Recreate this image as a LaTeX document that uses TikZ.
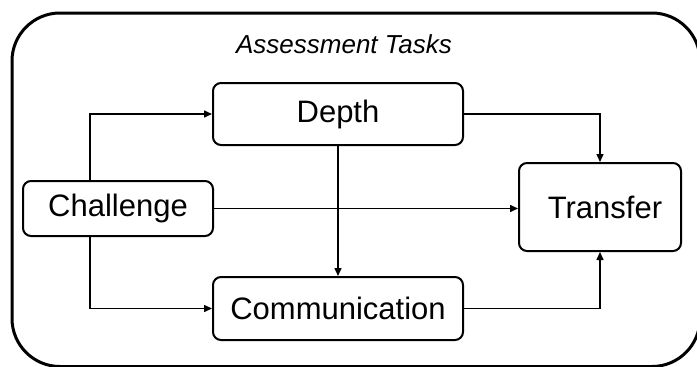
\documentclass[tikz,border=0pt]{standalone}
\usepackage{fontspec}
\setmainfont{Liberation Sans}
\usetikzlibrary{arrows.meta}
\begin{document}
\begin{tikzpicture}[x=1pt,y=-1pt,
  box/.style={draw, line width=2pt, rounded corners=8pt, inner sep=0pt,
    font=\fontsize{31}{36}\selectfont},
  conn/.style={line width=1.5pt, -{Triangle[length=8pt,width=7pt]}},
  frame/.style={line width=3pt, rounded corners=48pt}]
\useasboundingbox (0,0) rectangle (697,367);
\draw[frame] (12,13) rectangle (700,366.5);
\node[font=\fontsize{26}{30}\selectfont\itshape] (title) at (344,44) {Assessment Tasks};
\node[box, minimum width=250pt, minimum height=62pt] (depth) at (338,114) {Depth};
\node[box, minimum width=190pt, minimum height=55pt] (challenge) at (118,208.5) {Challenge};
\node[box, minimum width=162pt, minimum height=88pt] (transfer) at (600,207) {\hspace*{10pt}Transfer};
\node[box, minimum width=250pt, minimum height=63pt] (comm) at (338,308.5) {Communication};
\draw[conn] ([xshift=-28pt]challenge.north) |- (depth.west);
\draw[conn] ([xshift=-28pt]challenge.south) |- (comm.west);
\draw[conn] (challenge.east) -- (challenge.east -| transfer.west);
\draw[conn] (depth.east) -| (transfer.north);
\draw[conn] (comm.east) -| (transfer.south);
\draw[conn] (depth.south) -- (comm.north);
\end{tikzpicture}
\end{document}
